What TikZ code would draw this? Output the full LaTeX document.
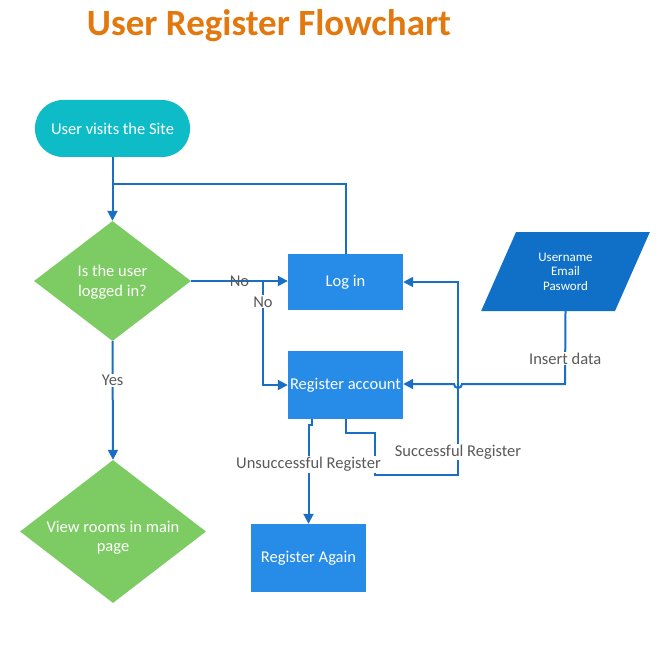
\documentclass[tikz,border=0pt]{standalone}
\usepackage{fontspec}
\setmainfont{Carlito}
\usetikzlibrary{shapes.geometric, arrows.meta}
\definecolor{titleorange}{RGB}{226,121,14}
\definecolor{startteal}{RGB}{14,188,200}
\definecolor{decgreen}{RGB}{125,203,99}
\definecolor{boxblue}{RGB}{38,140,232}
\definecolor{datablue}{RGB}{16,112,200}
\definecolor{linkblue}{RGB}{26,111,196}
\definecolor{labelgrey}{RGB}{89,89,89}

\begin{document}
\begin{tikzpicture}[x=1pt, y=-1pt,
  every node/.style={font=\fontsize{16.5}{19.5}\selectfont, text=white},
  terminal/.style={rectangle, rounded corners=28pt, fill=startteal, minimum width=155pt, minimum height=57pt},
  decision/.style={diamond, fill=decgreen, inner sep=0pt, align=center},
  process/.style={rectangle, fill=boxblue, minimum width=115pt, inner sep=0pt},
  datain/.style={trapezium, trapezium left angle=64, trapezium right angle=116, trapezium stretches=true,
    fill=datablue, minimum width=169pt, minimum height=79pt, align=center,
    font=\fontsize{13}{14.5}\selectfont},
  link/.style={draw=linkblue, line width=2pt},
  flow/.style={link, -{Triangle[length=10pt, width=10pt]}},
  tag/.style={text=labelgrey, fill=white, inner sep=1pt}]
\useasboundingbox (0,0) rectangle (657,668);

% title
\node (title) at (269,26) {\fontsize{37}{40}\selectfont\bfseries\color{titleorange}User Register Flowchart};

% shapes
\node[terminal] (start) at (112.5,128.5) {User visits the Site};
\node[decision, minimum width=157pt, minimum height=120pt] (logged) at (112.5,281)
  {\raisebox{-6pt}[0pt][0pt]{\begin{tabular}{@{}c@{}}Is the user\\logged in?\end{tabular}}};
\node[process, minimum height=56pt] (login) at (345.5,282) {Log in};
\node[process, minimum height=68pt] (regacc) at (345.5,385) {Register account};
\node[datain] (data) at (565.5,271.5) {Username\\Email\\Pasword};
\node[decision, minimum width=186pt, minimum height=143pt] (view) at (113,531.5)
  {\raisebox{-11pt}[0pt][0pt]{\begin{tabular}{@{}c@{}}View rooms in main\\page\end{tabular}}};
\node[process, minimum height=68pt] (again) at (308.5,558) {Register Again};

\coordinate (back) at (112.5,184);
\coordinate (split) at (263,281);
\coordinate (hop) at (458,384);

% connectors
\draw[flow] (start) -- (logged);
\draw[link] (login.north) |- (back);
\draw[flow] (logged.east) -- (login.west |- logged.east) node[midway, text=labelgrey] {No};
\draw[flow] (split) |- (regacc.west) node[pos=0.1, tag] {No};
\draw[flow] (logged.south) -- (view.north) node[pos=0.33, tag] {Yes};
\draw[flow] (data.south) -- (565,384) node[pos=0.65, tag] {Insert data}
  -- ([xshift=4pt]hop) arc (0:180:4) -- (regacc.east |- hop);
\draw[flow] (regacc.south) -- (345.5,433) -- (375,433) -- (375,475) -- (458,475)
  -- (458,282) node[pos=0.12, tag] {Successful Register} -- (login.east);
\draw[flow] (312,419) -- (312,425) -- (308.5,425) -- (again.north)
  node[pos=0.4, tag] {Unsuccessful Register};
\end{tikzpicture}
\end{document}
